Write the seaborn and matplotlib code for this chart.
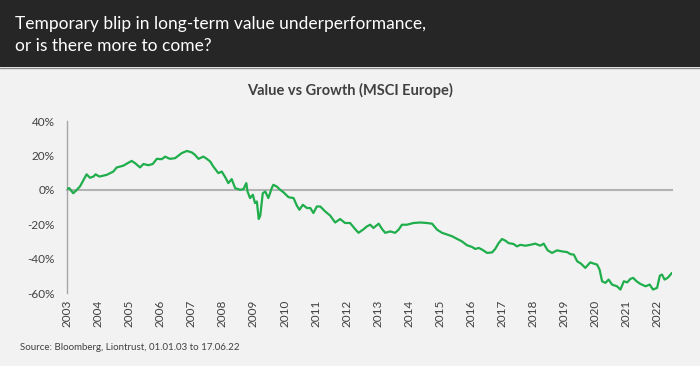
import seaborn as sns
import matplotlib.pyplot as plt
from matplotlib.patches import Rectangle
from matplotlib.lines import Line2D

# data (decimal year, value vs growth %)
years = [2003.00, 2003.07, 2003.20, 2003.29, 2003.42, 2003.63, 2003.74, 2003.85, 2003.92,
         2004.04, 2004.28, 2004.49, 2004.60, 2004.81, 2005.08, 2005.19, 2005.35, 2005.46,
         2005.62, 2005.76, 2005.89, 2006.05, 2006.16, 2006.26, 2006.32, 2006.48, 2006.69,
         2006.86, 2007.02, 2007.12, 2007.23, 2007.39, 2007.50, 2007.61, 2007.71, 2007.87,
         2007.98, 2008.09, 2008.19, 2008.30, 2008.41, 2008.57, 2008.68, 2008.77, 2008.81,
         2008.89, 2008.98, 2009.05, 2009.11, 2009.17, 2009.22, 2009.30, 2009.38, 2009.48,
         2009.59, 2009.64, 2009.75, 2009.86, 2009.97, 2010.13, 2010.29, 2010.40, 2010.48,
         2010.59, 2010.72, 2010.83, 2010.93, 2011.04, 2011.15, 2011.31, 2011.47, 2011.63,
         2011.79, 2011.95, 2012.11, 2012.28, 2012.38, 2012.54, 2012.65, 2012.76, 2012.86,
         2013.03, 2013.14, 2013.24, 2013.40, 2013.56, 2013.67, 2013.78, 2013.94, 2014.15,
         2014.37, 2014.58, 2014.75, 2014.91, 2015.07, 2015.23, 2015.39, 2015.55, 2015.71,
         2015.87, 2016.03, 2016.14, 2016.25, 2016.36, 2016.52, 2016.68, 2016.78, 2016.89,
         2017.00, 2017.11, 2017.21, 2017.37, 2017.48, 2017.59, 2017.75, 2017.91, 2018.07,
         2018.23, 2018.34, 2018.47, 2018.61, 2018.77, 2018.93, 2019.09, 2019.20, 2019.31,
         2019.42, 2019.54, 2019.68, 2019.84, 2019.95, 2020.06, 2020.14, 2020.22, 2020.33,
         2020.43, 2020.54, 2020.70, 2020.81, 2020.92, 2021.03, 2021.13, 2021.22, 2021.33,
         2021.45, 2021.62, 2021.75, 2021.86, 2021.99, 2022.08, 2022.15, 2022.23, 2022.33,
         2022.47]
value_vs_growth = [0.5, 1.0, -2.0, -0.5, 2.0, 9.0, 7.0, 7.7, 9.0,
                   7.7, 8.7, 10.6, 13.0, 14.0, 16.8, 15.5, 13.0, 15.0,
                   14.3, 15.0, 18.0, 17.8, 19.3, 18.4, 18.0, 18.4, 21.3,
                   22.6, 21.7, 20.3, 18.0, 19.3, 18.0, 16.4, 13.5, 9.7,
                   10.6, 7.4, 3.9, 6.2, 1.0, 0.0, 0.4, 3.9, -1.0,
                   -4.8, -2.9, -7.7, -6.8, -17.0, -15.0, -2.0, -1.0, -4.8,
                   1.0, 2.9, 1.9, 0.0, -1.5, -4.3, -4.8, -9.3, -11.6,
                   -8.7, -10.6, -10.6, -13.5, -9.7, -9.7, -12.6, -15.0, -19.0,
                   -17.0, -19.3, -19.3, -23.0, -25.0, -23.0, -21.3, -20.3, -22.2,
                   -19.7, -22.8, -25.0, -24.2, -25.0, -23.2, -20.3, -20.3, -19.3,
                   -19.0, -19.3, -19.7, -23.2, -25.0, -26.0, -27.0, -28.5, -30.0,
                   -32.2, -33.2, -34.4, -33.8, -34.8, -36.7, -36.4, -34.4, -31.0,
                   -28.6, -29.6, -31.0, -31.5, -32.9, -32.0, -32.5, -32.0, -31.3,
                   -32.5, -31.3, -35.2, -36.7, -35.2, -35.8, -36.2, -37.4, -37.7,
                   -41.6, -42.9, -45.4, -42.2, -42.9, -43.5, -46.4, -53.2, -54.1,
                   -52.2, -55.1, -56.1, -58.0, -53.2, -53.8, -51.8, -51.2, -53.2,
                   -54.7, -56.1, -55.1, -58.0, -57.0, -49.9, -49.3, -52.2, -51.2,
                   -48.3]

year_ticks = list(range(2003, 2023))
y_ticks = [-60, -40, -20, 0, 20, 40]

header = "Temporary blip in long-term value underperformance,\nor is there more to come?"
title = "Value vs Growth (MSCI Europe)"
source = "Source: Bloomberg, Liontrust, 01.01.03 to 17.06.22"

sns.set_style("white")
plt.rcParams['font.family'] = ['Lato', 'DejaVu Sans']

bg = '#f2f2f2'
axis_grey = '#a6a6a6'
text_grey = '#404040'

fig = plt.figure(figsize=(7, 3.66), dpi=100, facecolor=bg)

# dark header band
fig.patches.append(Rectangle((0, 1 - 67 / 366), 1, 67 / 366, transform=fig.transFigure,
                             facecolor='#262626', edgecolor='none', zorder=0))
fig.lines.append(Line2D([0, 1], [1 - 67.5 / 366] * 2, transform=fig.transFigure,
                        color='#8c8c8c', lw=1))
fig.text(15 / 700, 1 - 35 / 366, header, color='white', fontsize=12.5,
         va='center', ha='left', linespacing=1.4)

ax = fig.add_axes([67 / 700, 1 - 293 / 366, 605 / 700, 172 / 366])
ax.set_facecolor(bg)

sns.lineplot(x=years, y=value_vs_growth, ax=ax, color='#1fae4b', linewidth=1.6, zorder=3)

ax.set_xlim(2003, 2022.47)
ax.set_ylim(-60, 40)
ax.set_yticks(y_ticks)
ax.set_yticklabels([f"{v}%" for v in y_ticks])
ax.tick_params(axis='y', direction='out', length=3, width=1, color=axis_grey,
               labelsize=8.5, labelcolor=text_grey, pad=6)

# zero line with year ticks, labels at the bottom
ax.spines['bottom'].set_position(('data', 0))
ax.spines['bottom'].set_color('#b3b3b3')
ax.spines['bottom'].set_linewidth(1.5)
ax.spines['left'].set_color(axis_grey)
ax.spines['left'].set_linewidth(1)
ax.spines['top'].set_visible(False)
ax.spines['right'].set_visible(False)
ax.set_xticks(year_ticks)
ax.tick_params(axis='x', direction='out', length=4, width=1, color=axis_grey,
               labelbottom=False)

sec = ax.secondary_xaxis('bottom')
sec.set_xticks(year_ticks)
sec.set_xticklabels([str(y) for y in year_ticks], rotation=90)
sec.tick_params(length=0, labelsize=8.5, labelcolor=text_grey, pad=5)
sec.spines['bottom'].set_visible(False)

fig.text(0.5, 1 - 90 / 366, title, ha='center', va='center', fontsize=10.5,
         fontweight='bold', color=text_grey)
fig.text(20 / 700, 1 - 348 / 366, source, ha='left', va='center', fontsize=7,
         color=text_grey)

fig.savefig('out.png', dpi=100, facecolor=bg)
